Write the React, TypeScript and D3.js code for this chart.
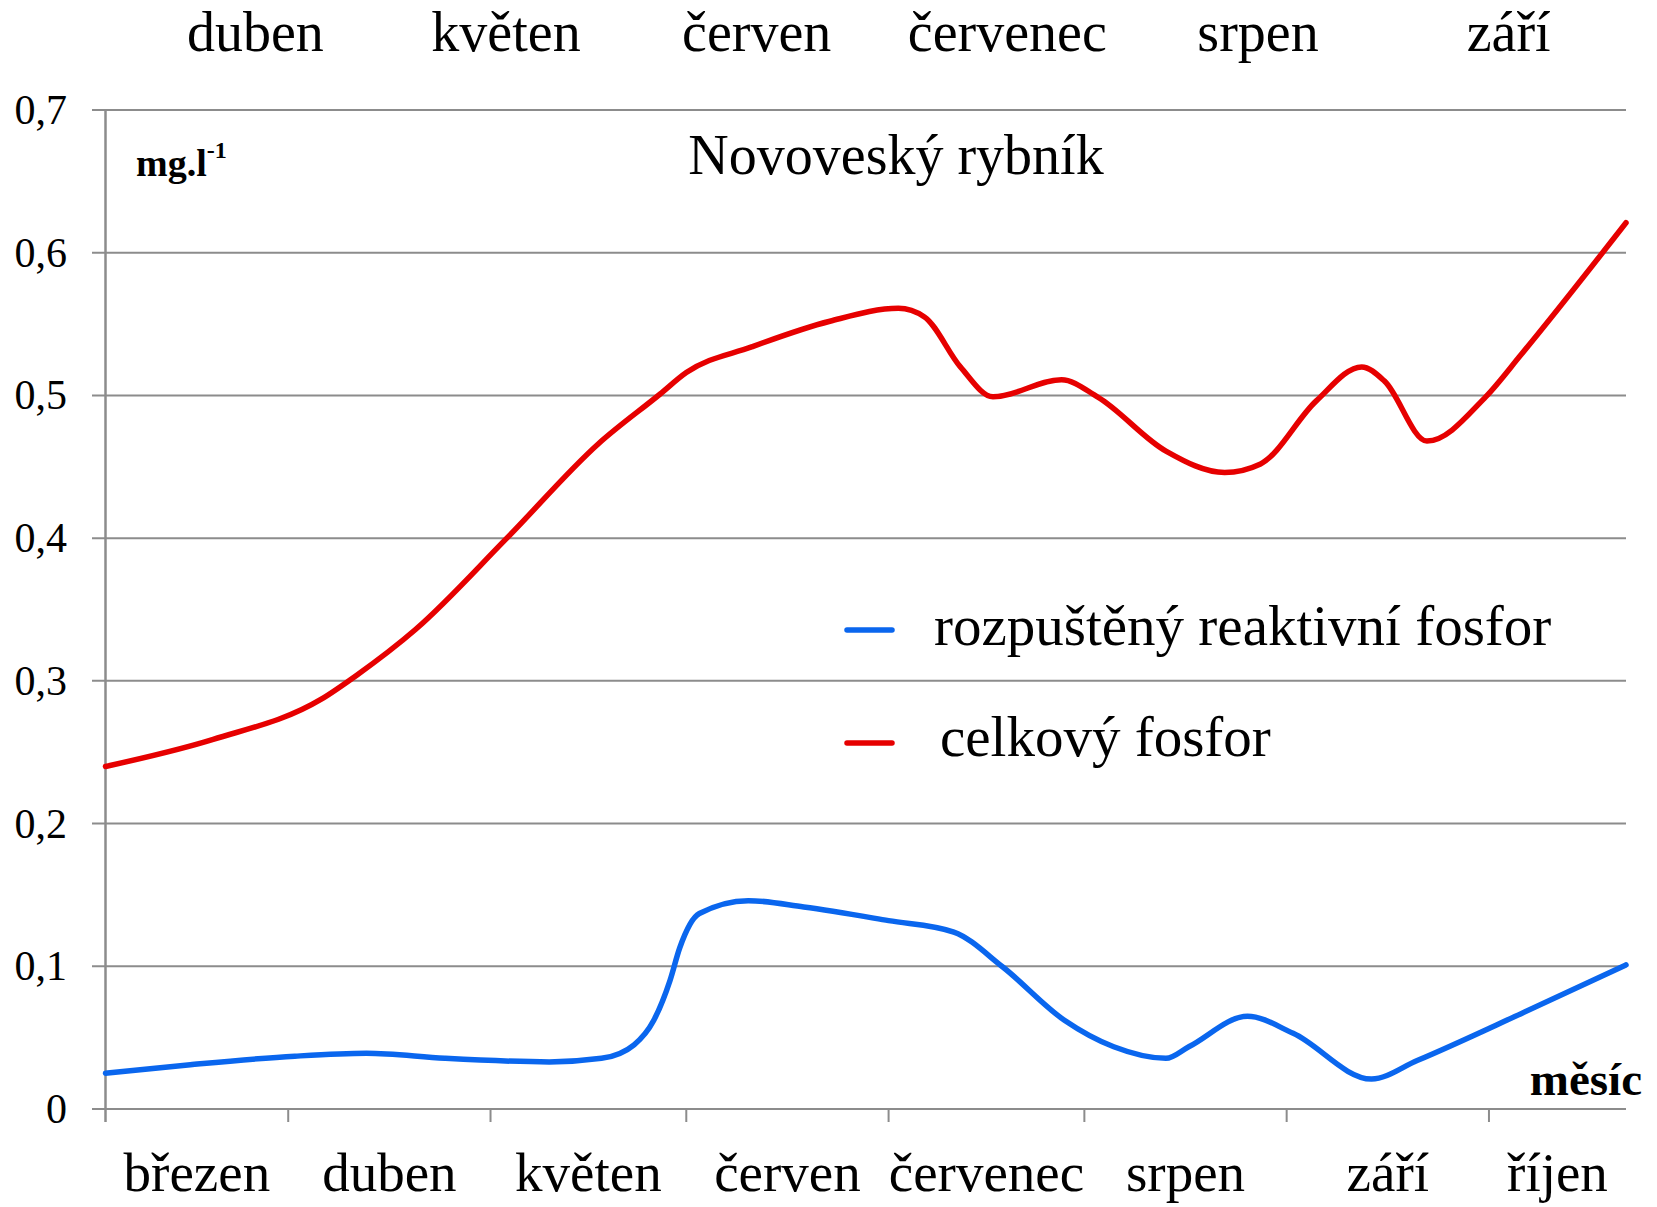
import * as d3 from "d3";

// month boundaries on the bottom axis, in days from the first sample
const monthTickDays = [0, 28, 59, 89, 120, 150, 181, 212];
const axisEndDay = 233;
const bottomMonths = ["březen", "duben", "květen", "červen", "červenec", "srpen", "září", "říjen"];
const topMonths = ["duben", "květen", "červen", "červenec", "srpen", "září"];
const yTicks = [0, 0.1, 0.2, 0.3, 0.4, 0.5, 0.6, 0.7];

// rozpuštěný reaktivní fosfor (mg/l)
const srpDays = [0, 13, 29, 40, 52, 68, 76, 81, 84, 86.5, 88, 91, 98.5, 107, 120, 130, 137.5, 147, 154.5, 162.5, 166, 175, 182, 194, 201, 217, 233];
const srpValues = [0.025, 0.031, 0.037, 0.039, 0.0355, 0.033, 0.0355, 0.045, 0.062, 0.09, 0.113, 0.137, 0.146, 0.1415, 0.132, 0.124, 0.0995, 0.062, 0.0436, 0.0355, 0.0436, 0.065, 0.053, 0.021, 0.034, 0.067, 0.101];

// celkový fosfor (mg/l)
const tpDays = [0, 16.5, 33, 38.5, 47.5, 61.5, 75.5, 85, 89, 99, 111, 121.5, 125.5, 131, 136, 146.5, 152, 162.5, 171.5, 177, 185.5, 192.5, 196, 202.5, 211.5, 217, 233];
const tpValues = [0.24, 0.259, 0.287, 0.304, 0.336, 0.4, 0.466, 0.501, 0.516, 0.534, 0.552, 0.561, 0.555, 0.52, 0.499, 0.511, 0.499, 0.461, 0.446, 0.452, 0.496, 0.52, 0.51, 0.468, 0.499, 0.529, 0.621];

const W = 1657;
const H = 1207;
const left = 105.5;
const right = 1626;
const top = 110;
const bottom = 1109;

const FONT = "'Liberation Serif', 'Times New Roman', serif";
const GRID = "#8c8c8c";
const BLUE = "#0a66ee";
const RED = "#e60000";

export default function App() {
  const x = d3.scaleLinear().domain([0, axisEndDay]).range([left, right]);
  const y = d3.scaleLinear().domain([0, 0.7]).range([bottom, top]);
  const topBand = d3.scaleBand().domain(topMonths).range([130, 1634]);

  const line = d3
    .line<[number, number]>()
    .x((d) => x(d[0]))
    .y((d) => y(d[1]))
    .curve(d3.curveMonotoneX);

  const srpPath = line(srpDays.map((d, i) => [d, srpValues[i]]));
  const tpPath = line(tpDays.map((d, i) => [d, tpValues[i]]));

  const bandEdges = [...monthTickDays, axisEndDay];

  return (
    <svg
      width={W}
      height={H}
      viewBox={`0 0 ${W} ${H}`}
      style={{ position: "absolute", left: 0, top: 0, background: "#fff" }}
      fontFamily={FONT}
    >
      <rect width={W} height={H} fill="#fff" />

      {/* top row of months */}
      {topMonths.map((m) => (
        <text key={"t" + m} x={topBand(m)! + topBand.bandwidth() / 2} y={51} fontSize={56} textAnchor="middle">
          {m}
        </text>
      ))}

      {/* horizontal grid + y labels */}
      {yTicks.map((t) => (
        <g key={t}>
          <line x1={92} x2={right} y1={y(t)} y2={y(t)} stroke={GRID} strokeWidth={2} />
          <text x={67} y={y(t) + 14} fontSize={42} textAnchor="end">
            {t === 0 ? "0" : d3.format(".1f")(t).replace(".", ",")}
          </text>
        </g>
      ))}

      {/* y axis */}
      <line x1={left} x2={left} y1={top} y2={bottom + 13} stroke={GRID} strokeWidth={2.5} />

      {/* month ticks */}
      {monthTickDays.slice(1).map((d) => (
        <line key={d} x1={x(d)} x2={x(d)} y1={bottom} y2={bottom + 13} stroke={GRID} strokeWidth={2} />
      ))}

      {/* bottom month labels */}
      {bottomMonths.map((m, i) => (
        <text
          key={"b" + m}
          x={(x(bandEdges[i]) + x(bandEdges[i + 1])) / 2}
          y={1191}
          fontSize={55}
          textAnchor="middle"
        >
          {m}
        </text>
      ))}

      <text x={136} y={176} fontSize={38} fontWeight="bold">
        mg.l
        <tspan fontSize={24} dy={-18}>-1</tspan>
      </text>
      <text x={896} y={174} fontSize={56} textAnchor="middle">
        Novoveský rybník
      </text>
      <text x={1642} y={1095} fontSize={47} fontWeight="bold" textAnchor="end">
        měsíc
      </text>

      {/* series */}
      <path d={tpPath ?? ""} fill="none" stroke={RED} strokeWidth={5.5} strokeLinejoin="round" strokeLinecap="round" />
      <path d={srpPath ?? ""} fill="none" stroke={BLUE} strokeWidth={5.5} strokeLinejoin="round" strokeLinecap="round" />

      {/* legend */}
      <line x1={847} x2={892} y1={630} y2={630} stroke={BLUE} strokeWidth={5.5} strokeLinecap="round" />
      <text x={934} y={645} fontSize={57}>rozpuštěný reaktivní fosfor</text>
      <line x1={847} x2={892} y1={743} y2={743} stroke={RED} strokeWidth={5.5} strokeLinecap="round" />
      <text x={940} y={756} fontSize={57}>celkový fosfor</text>
    </svg>
  );
}
